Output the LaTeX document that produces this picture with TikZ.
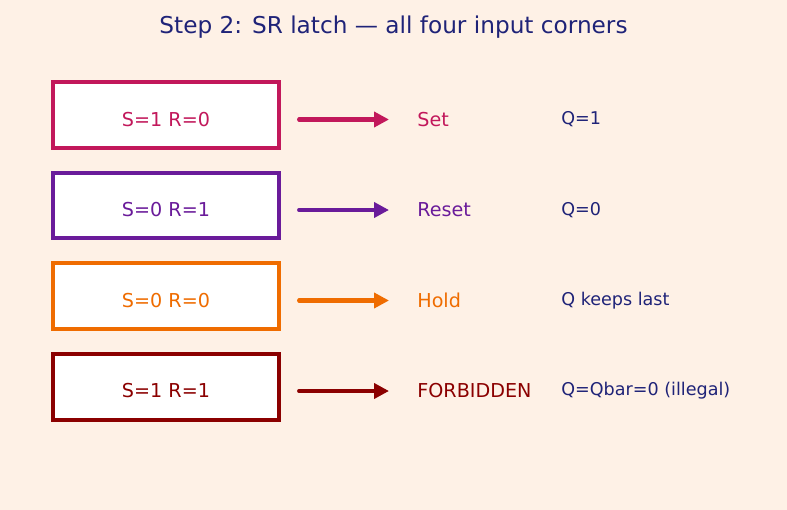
\documentclass[tikz,border=0pt]{standalone}
\usepackage{fontspec}
\setmainfont{DejaVu Sans}
\usetikzlibrary{arrows.meta}

\definecolor{bgcol}{HTML}{FEF1E6}
\definecolor{navy}{HTML}{1F2378}
\definecolor{setcol}{HTML}{C2185B}
\definecolor{rescol}{HTML}{6A1B9A}
\definecolor{holdcol}{HTML}{EF6C00}
\definecolor{forbcol}{HTML}{8B0000}

\tikzset{
    inbox/.style={draw=#1, line width=2.3pt, fill=white, minimum width=128.7pt, minimum height=37.4pt, inner sep=0pt},
    intext/.style={text=#1, font=\fontsize{10.9}{13}\selectfont},
    arr/.style={draw=#1, line width=2.3pt, line cap=round, -{Triangle[length=8.5pt,width=8.5pt]}},
    outlabel/.style={text=#1, anchor=west, inner sep=0pt, font=\fontsize{10.9}{13}\selectfont},
    qtext/.style={text=navy, anchor=west, inner sep=0pt, font=\fontsize{10}{12}\selectfont},
}

\begin{document}
\begin{tikzpicture}[x=0.02cm, y=-0.02cm]
    \fill[bgcol] (0,0) rectangle (787,510);
    \useasboundingbox (0,0) rectangle (787,510);
    \node[text=navy, font=\fontsize{13.2}{16}\selectfont] (title) at (393.5,27) {Step 2: SR latch — all four input corners};

    % S=1 R=0
    \node[inbox=setcol] (b1) at (166,115) {};
    \node[intext=setcol] (t1) at (166,119.5) {S=1 R=0};
    \node[outlabel=setcol] (s1) at (417,119.5) {Set};
    \node[qtext] (q1) at (561,119.5) {Q=1};
    \draw[arr=setcol] ([xshift=18*0.02cm]b1.east |- t1) -- ([xshift=-28*0.02cm]s1.west);

    % S=0 R=1
    \node[inbox=rescol] (b2) at (166,205.5) {};
    \node[intext=rescol] (t2) at (166,210) {S=0 R=1};
    \node[outlabel=rescol] (s2) at (417,210) {Reset};
    \node[qtext] (q2) at (561,210) {Q=0};
    \draw[arr=rescol] ([xshift=18*0.02cm]b2.east |- t2) -- ([xshift=-28*0.02cm]s2.west);

    % S=0 R=0
    \node[inbox=holdcol] (b3) at (166,296) {};
    \node[intext=holdcol] (t3) at (166,300.5) {S=0 R=0};
    \node[outlabel=holdcol] (s3) at (417,300.5) {Hold};
    \node[qtext] (q3) at (561,300.5) {Q keeps last};
    \draw[arr=holdcol] ([xshift=18*0.02cm]b3.east |- t3) -- ([xshift=-28*0.02cm]s3.west);

    % S=1 R=1
    \node[inbox=forbcol] (b4) at (166,387) {};
    \node[intext=forbcol] (t4) at (166,391) {S=1 R=1};
    \node[outlabel=forbcol] (s4) at (417,391) {FORBIDDEN};
    \node[qtext] (q4) at (561,391) {Q=Qbar=0 (illegal)};
    \draw[arr=forbcol] ([xshift=18*0.02cm]b4.east |- t4) -- ([xshift=-28*0.02cm]s4.west);
\end{tikzpicture}
\end{document}
